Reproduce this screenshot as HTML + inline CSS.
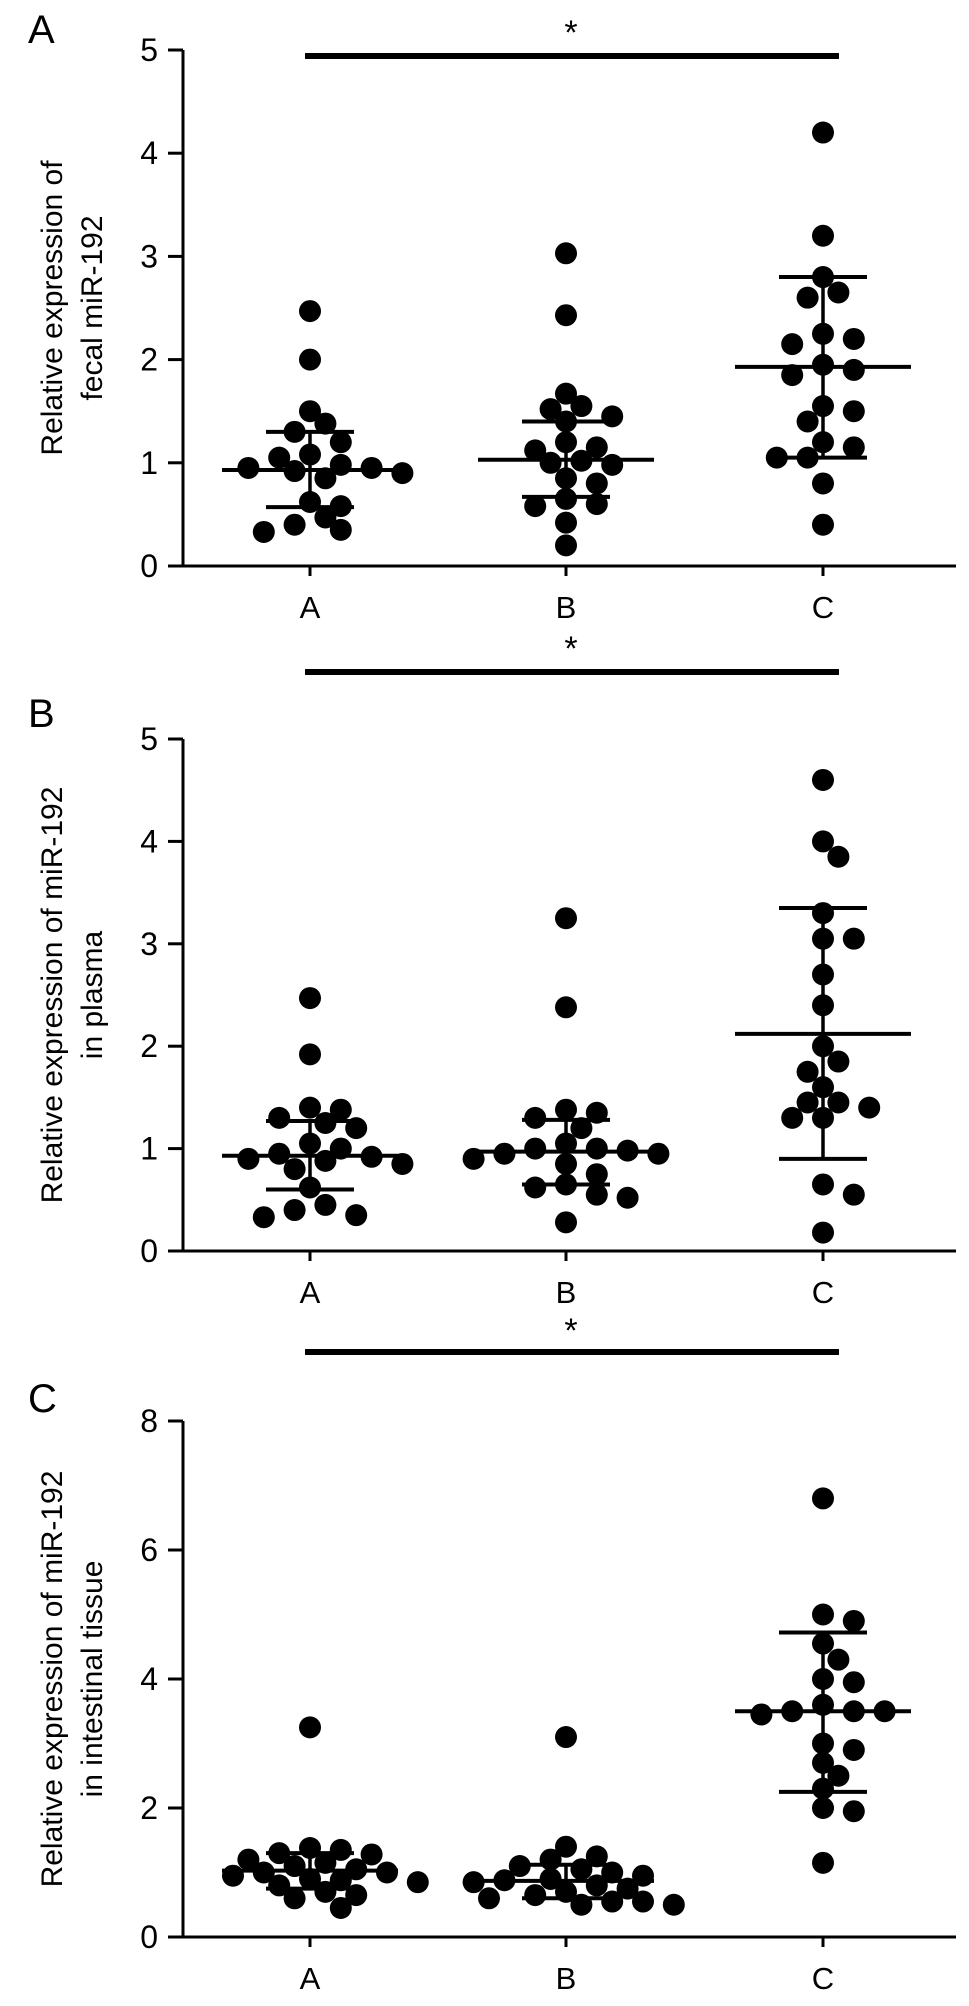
<!DOCTYPE html>
<html><head><meta charset="utf-8">
<style>
html,body{margin:0;padding:0;background:#fff;}
svg{display:block;font-family:"Liberation Sans",Arial,sans-serif;}
</style></head>
<body>
<svg id="chart" width="969" height="2006" viewBox="0 0 969 2006" xmlns="http://www.w3.org/2000/svg"></svg>
<script>
const categories = ["A","B","C"];
// Panel A: fecal
const fecalA = [2.47,2.0,1.5,1.38,1.3,1.2,1.08,1.05,0.98,0.95,0.95,0.92,0.9,0.85,0.62,0.58,0.47,0.4,0.35,0.33];
const fecalB = [3.03,2.43,1.67,1.55,1.52,1.45,1.4,1.2,1.15,1.12,1.02,1.0,0.98,0.85,0.8,0.65,0.6,0.58,0.42,0.2];
const fecalC = [4.2,3.2,2.8,2.65,2.6,2.25,2.2,2.15,1.95,1.9,1.85,1.55,1.5,1.4,1.2,1.15,1.05,1.05,0.8,0.4];
const fecalMean = [0.93,1.03,1.93];
const fecalLow = [0.57,0.67,1.05];
const fecalHigh = [1.3,1.4,2.8];
const fecalTicks = [0,1,2,3,4,5];
// Panel B: plasma
const plasmaA = [2.47,1.92,1.4,1.38,1.3,1.25,1.2,1.05,1.0,0.95,0.92,0.9,0.88,0.85,0.8,0.62,0.45,0.4,0.35,0.33];
const plasmaB = [3.25,2.38,1.38,1.35,1.3,1.2,1.05,1.0,1.0,0.98,0.95,0.95,0.9,0.85,0.75,0.65,0.62,0.55,0.52,0.28];
const plasmaC = [4.6,4.0,3.85,3.3,3.05,3.05,2.7,2.4,2.0,1.85,1.75,1.6,1.45,1.45,1.4,1.3,1.3,0.65,0.55,0.18];
const plasmaMean = [0.93,0.97,2.12];
const plasmaLow = [0.6,0.65,0.9];
const plasmaHigh = [1.27,1.28,3.35];
const plasmaTicks = [0,1,2,3,4,5];
// Panel C: tissue
const tissueA = [3.25,1.38,1.35,1.3,1.28,1.2,1.15,1.1,1.05,1.0,1.0,0.95,0.9,0.88,0.85,0.8,0.7,0.65,0.6,0.45];
const tissueB = [3.1,1.4,1.25,1.2,1.1,1.05,1.0,0.95,0.9,0.88,0.85,0.8,0.75,0.7,0.65,0.6,0.55,0.55,0.5,0.5];
const tissueC = [6.8,5.0,4.9,4.55,4.3,4.0,3.95,3.6,3.5,3.5,3.5,3.45,3.0,2.9,2.7,2.5,2.3,2.0,1.95,1.15];
const tissueMean = [1.03,0.87,3.5];
const tissueLow = [0.75,0.6,2.25];
const tissueHigh = [1.3,1.12,4.72];
const tissueTicks = [0,2,4,6,8];

const NS="http://www.w3.org/2000/svg";
const svg=document.getElementById('chart');
function mk(tag,attrs,parent){const e=document.createElementNS(NS,tag);for(const k in attrs)e.setAttribute(k,attrs[k]);(parent||svg).appendChild(e);return e;}

const panels=[
 {letter:"A",top:50,bottom:566,max:5,ticks:fecalTicks,groups:[fecalA,fecalB,fecalC],mean:fecalMean,low:fecalLow,high:fecalHigh,label:["Relative expression of","fecal miR-192"],barY:56,starY:44,catY:618,letterY:43},
 {letter:"B",top:739,bottom:1251,max:5,ticks:plasmaTicks,groups:[plasmaA,plasmaB,plasmaC],mean:plasmaMean,low:plasmaLow,high:plasmaHigh,label:["Relative expression of miR-192","in plasma"],barY:672,starY:660,catY:1303,letterY:727},
 {letter:"C",top:1421,bottom:1937,max:8,ticks:tissueTicks,groups:[tissueA,tissueB,tissueC],mean:tissueMean,low:tissueLow,high:tissueHigh,label:["Relative expression of miR-192","in intestinal tissue"],barY:1352,starY:1342,catY:1989,letterY:1412}
];
const axisX=183, xEnd=956, catX=[310,566,823], R=11;

panels.forEach((p,pi)=>{
 const g=mk('g',{});
 
 
 const y=v=>p.bottom-(v/p.max)*(p.bottom-p.top);
 const lt=mk('text',{x:28,y:p.letterY,'font-size':40},g);lt.textContent=p.letter;
 
 const ax=mk('line',{x1:axisX,y1:p.top,x2:axisX,y2:p.bottom,stroke:'#000','stroke-width':3},g);
 
 const xa=mk('line',{x1:axisX,y1:p.bottom,x2:xEnd,y2:p.bottom,stroke:'#000','stroke-width':3},g);
 
 p.ticks.forEach(t=>{
  const tl=mk('line',{x1:axisX-15,y1:y(t),x2:axisX,y2:y(t),stroke:'#000','stroke-width':3},g);
  
  const tx=mk('text',{x:axisX-25,y:y(t)+11,'font-size':32,'text-anchor':'end'},g);tx.textContent=t;
  
 });
 const yl=mk('text',{transform:`translate(62,${(p.top+p.bottom)/2}) rotate(-90)`,'font-size':30,'text-anchor':'middle'},g);
 
 p.label.forEach((s,i)=>{const ts=mk('tspan',{x:0,dy:i?40:0},yl);ts.textContent=s;});
 const sb=mk('line',{x1:305,y1:p.barY,x2:839,y2:p.barY,stroke:'#000','stroke-width':6},g);
 
 const st=mk('text',{x:571,y:p.starY,'font-size':34,'text-anchor':'middle'},g);st.textContent='*';
 
 p.groups.forEach((vals,gi)=>{
  const cx=catX[gi];
  const tk=mk('line',{x1:cx,y1:p.bottom,x2:cx,y2:p.bottom+10,stroke:'#000','stroke-width':3},g);
  
  const cl=mk('text',{x:cx,y:p.catY,'font-size':31,'text-anchor':'middle'},g);cl.textContent=categories[gi];
  
  const placed=[];
  vals.forEach(v=>{
   const py=y(v);let px=cx;
   for(let k=0;k<40;k++){
    const off=(k%2?1:-1)*Math.ceil(k/2)*R*1.4;
    const tx=cx+off;
    if(placed.every(q=>Math.hypot(q[0]-tx,q[1]-py)>=R*1.7)){px=tx;break;}
   }
   placed.push([px,py]);
   const c=mk('circle',{cx:px,cy:py,r:R,fill:'#000'},g);
   
  });
  const ml=mk('line',{x1:cx-88,y1:y(p.mean[gi]),x2:cx+88,y2:y(p.mean[gi]),stroke:'#000','stroke-width':4},g);
  
  const vl=mk('line',{x1:cx,y1:y(p.low[gi]),x2:cx,y2:y(p.high[gi]),stroke:'#000','stroke-width':3.5},g);
  
  [p.low[gi],p.high[gi]].forEach(v=>{
   const cap=mk('line',{x1:cx-44,y1:y(v),x2:cx+44,y2:y(v),stroke:'#000','stroke-width':4},g);
   
  });
 });
});
</script>
</body></html>
